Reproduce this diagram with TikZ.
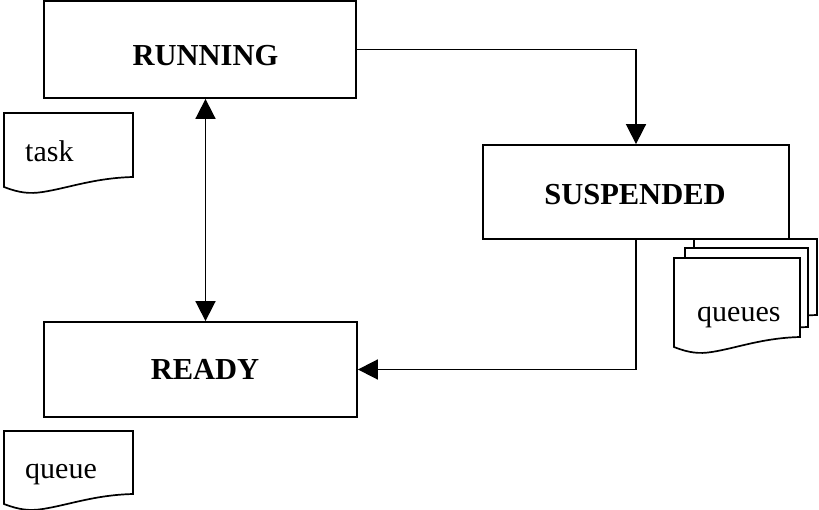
\documentclass[tikz,border=0pt]{standalone}
\usepackage{fontspec}
\setmainfont{Liberation Serif}
\usetikzlibrary{arrows.meta}
\tikzset{
  stbox/.style={draw, line width=1.8pt, fill=white, inner sep=0pt},
  lbl/.style={font=\fontsize{30.5}{34}\selectfont\bfseries, anchor=base, inner sep=0pt},
  doctxt/.style={font=\fontsize{30}{34}\selectfont, anchor=base west, inner sep=0pt},
  docline/.style={draw, line width=1.7pt, fill=white, line join=miter},
  conn/.style={line width=1.7pt, -{Triangle[length=20pt,width=20pt]}},
  dconn/.style={line width=1.7pt, {Triangle[length=20pt,width=20pt]}-{Triangle[length=20pt,width=20pt]}}
}
% #1 left x, #2 right x, #3 top y, #4 right-bottom y
\newcommand\mydocpath[4]{%
  \path[docline] (#1,#3) -- (#2,#3) -- (#2,#4)
    .. controls ({#1+0.7*(#2-#1)},{#4+1}) and ({#1+0.5*(#2-#1)},{#4+11}) .. ({#1+0.3*(#2-#1)},{#4+15})
    .. controls ({#1+0.2*(#2-#1)},{#4+17}) and ({#1+0.12*(#2-#1)},{#4+16}) .. (#1,{#4+10}) -- cycle;}
\begin{document}
\begin{tikzpicture}[x=1pt,y=-1pt]
\useasboundingbox (0,0) rectangle (819,510);
% state boxes
\node[stbox, minimum width=312pt, minimum height=97pt] (run) at (200,49.5) {};
\node[lbl] (runt) at (205.5,66) {RUNNING};
\node[stbox, minimum width=306pt, minimum height=94pt] (susp) at (636,192) {};
\node[lbl] (suspt) at (635,205) {SUSPENDED};
\node[stbox, minimum width=313pt, minimum height=95pt] (ready) at (200.5,369.5) {};
\node[lbl] (readyt) at (205,380) {READY};
% documents
\mydocpath{4}{133}{113}{177}
\node[doctxt] (task) at (25,162) {task};
\mydocpath{694}{817}{239}{315}
\mydocpath{685}{808}{248}{327}
\mydocpath{674}{800}{258}{337}
\node[doctxt] (queues) at (697,322) {queues};
\mydocpath{4}{133}{431}{494}
\node[doctxt] (queue) at (25,478) {queue};
% connectors
\draw[conn] (run.east) -| (susp.north);
\draw[conn] (susp.south) |- (ready.east);
\draw[dconn] (run.south -| runt.south) -- (ready.north -| runt.south);
\end{tikzpicture}
\end{document}
